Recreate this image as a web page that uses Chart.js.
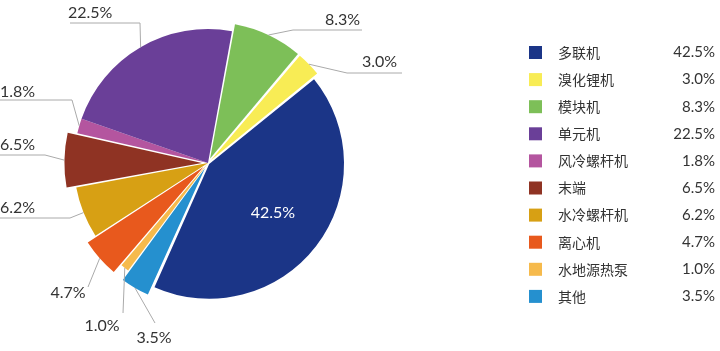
<!DOCTYPE html>
<html>
<head>
<meta charset="utf-8">
<script src="https://cdn.jsdelivr.net/npm/chart.js@4/dist/chart.umd.min.js"></script>
<style>
  html, body { margin: 0; padding: 0; background: #fff; }
  #wrap { width: 720px; height: 351px; }
</style>
</head>
<body>
<div id="wrap"><canvas id="pie-chart" width="720" height="351"></canvas></div>
<script>
(function () {
    "use strict";

    // Data, in legend order
    var categories = ['多联机', '溴化锂机', '模块机', '单元机', '风冷螺杆机', '末端', '水冷螺杆机', '离心机', '水地源热泵', '其他'];
    var shares = [42.5, 3.0, 8.3, 22.5, 1.8, 6.5, 6.2, 4.7, 1.0, 3.5];
    var colors = ['#1b3587', '#f8ec55', '#7dbf58', '#6a3f98', '#b4559f', '#8f3323', '#d7a014', '#e8591d', '#f6ba4c', '#2590cf'];

    // the pie runs the legend the other way round
    var pieOrder = [0, 9, 8, 7, 6, 5, 4, 3, 2, 1];

    // how far each slice is pulled out
    var pullOut = { '多联机': 6, '溴化锂机': 16, '模块机': 20, '单元机': 0, '风冷螺杆机': 0,
        '末端': 24, '水冷螺杆机': 0, '离心机': 24, '水地源热泵': 0, '其他': 24 };

    // where the outside labels sit, and the bends of their leader lines
    var labelSpots = {
        '其他':     { x: 154, y: 338, align: 'center', line: [[155, 323]] },
        '水地源热泵': { x: 102, y: 326, align: 'center', line: [[123, 313]] },
        '离心机':   { x: 68, y: 293, align: 'center', line: [[88, 287]] },
        '水冷螺杆机': { x: 0, y: 208, align: 'left', line: [[70, 218], [0, 218]] },
        '末端':     { x: 0, y: 145, align: 'left', line: [[45, 155], [0, 155]] },
        '风冷螺杆机': { x: 0, y: 92, align: 'left', line: [[72, 100], [0, 100]] },
        '单元机':   { x: 68, y: 13, align: 'left', line: [[140, 23], [70, 23]] },
        '模块机':   { x: 325, y: 20, align: 'left', line: [[293, 30], [362, 30]] },
        '溴化锂机': { x: 362, y: 62, align: 'left', line: [[347, 73], [402, 73]] }
    };

    var pieLabels = pieOrder.map(function (i) { return categories[i]; });
    var pieData = pieOrder.map(function (i) { return shares[i]; });
    var pieColors = pieOrder.map(function (i) { return colors[i]; });
    var pieOffsets = pieOrder.map(function (i) { return pullOut[categories[i]]; });

    function pct(v) { return v.toFixed(1) + '%'; }

    // Labels + legend
    var sliceLabels = {
        id: 'sliceLabels',
        afterDraw: function (chart) {
            var ctx = chart.ctx;
            var meta = chart.getDatasetMeta(0);
            ctx.save();
            meta.data.forEach(function (arc, k) {
                var p = arc.getProps(['x', 'y', 'startAngle', 'endAngle', 'outerRadius'], true);
                var name = pieLabels[k];
                var mid = (p.startAngle + p.endAngle) / 2;
                var off = (arc.options.offset || 0) / 4;
                var fix = 1 - Math.sin(Math.min(Math.PI, p.endAngle - p.startAngle));
                var cx = p.x + Math.cos(mid) * off;
                var cy = p.y + Math.sin(mid) * off;

                if (name === '多联机') {
                    ctx.fillStyle = '#fff';
                    ctx.font = '16px Lato, sans-serif';
                    ctx.textAlign = 'center';
                    ctx.textBaseline = 'middle';
                    ctx.fillText(pct(pieData[k]), cx + Math.cos(mid) * p.outerRadius * 0.6, cy + Math.sin(mid) * p.outerRadius * 0.6);
                    return;
                }
                var spot = labelSpots[name];
                var r = p.outerRadius + off * fix;
                ctx.strokeStyle = '#aaa';
                ctx.lineWidth = 1;
                ctx.beginPath();
                ctx.moveTo(cx + Math.cos(mid) * r, cy + Math.sin(mid) * r);
                spot.line.forEach(function (pt) { ctx.lineTo(pt[0], pt[1]); });
                ctx.stroke();

                ctx.fillStyle = '#333';
                ctx.font = '16px Lato, sans-serif';
                ctx.textAlign = spot.align;
                ctx.textBaseline = 'middle';
                ctx.fillText(pct(pieData[k]), spot.x, spot.y);
            });

            // Legend
            categories.forEach(function (name, i) {
                var y = 52.5 + i * 27.1;
                ctx.fillStyle = colors[i];
                ctx.fillRect(529, y - 6.5, 13, 13);
                ctx.fillStyle = '#333';
                ctx.textBaseline = 'middle';
                ctx.textAlign = 'left';
                ctx.font = '14px "Noto Sans CJK SC", sans-serif';
                ctx.fillText(name, 558, y);
                ctx.textAlign = 'right';
                ctx.font = '15px Lato, sans-serif';
                ctx.fillText(pct(shares[i]), 715, y);
            });
            ctx.restore();
        }
    };

    // Pie Chart
    var ctx5 = document.getElementById('pie-chart').getContext('2d');
    var myChart5 = new Chart(ctx5, {
        type: 'pie',
        data: {
            labels: pieLabels,
            datasets: [{
                data: pieData,
                backgroundColor: pieColors,
                offset: pieOffsets,
                borderWidth: 0
            }]
        },
        options: {
            responsive: false,
            animation: false,
            rotation: 51,
            radius: 134,
            layout: { padding: { left: 6, right: 310, top: 0, bottom: 25 } },
            plugins: {
                legend: { display: false },
                tooltip: { enabled: false }
            }
        },
        plugins: [sliceLabels]
    });
})();
</script>
</body>
</html>
